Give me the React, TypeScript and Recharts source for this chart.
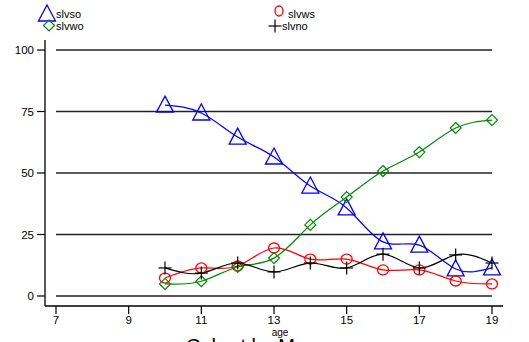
import React from "react";
import { LineChart, Line, XAxis, YAxis, ReferenceLine } from "recharts";

const ages = [10, 11, 12, 13, 14, 15, 16, 17, 18, 19];
const slvso = [77.6, 74.4, 64.6, 56.5, 44.7, 35.8, 22, 20.7, 11, 11.4];
const slvws = [7.3, 11.4, 12.2, 19.5, 15, 15, 10.6, 10.6, 6.1, 4.9];
const slvwo = [4.9, 6, 11.8, 15.4, 28.9, 40.2, 50.8, 58.5, 68.3, 71.5];
const slvno = [11.4, 9.3, 13.4, 9.8, 13.4, 11.4, 17, 11.4, 16.7, 13.4];
const xTicks = [7, 9, 11, 13, 15, 17, 19];
const yTicks = [0, 25, 50, 75, 100];
const gridValues = [0, 25, 50, 75, 100];

const data = ages.map((a, i) => ({
  age: a,
  slvso: slvso[i],
  slvws: slvws[i],
  slvwo: slvwo[i],
  slvno: slvno[i],
}));

const BLUE = "#0000ff";
const RED = "#ff0000";
const GREEN = "#008a00";
const BLACK = "#000000";
const FONT = "'Liberation Sans', Arial, sans-serif";

const Triangle = ({ cx, cy, color }: any) => (
  <polygon
    points={`${cx},${cy - 9} ${cx + 8.5},${cy + 7} ${cx - 8.5},${cy + 7}`}
    fill="none"
    stroke={color}
    strokeWidth={1.3}
  />
);
const Circle = ({ cx, cy, color }: any) => (
  <ellipse cx={cx} cy={cy} rx={5.5} ry={5} fill="none" stroke={color} strokeWidth={1.3} />
);
const Diamond = ({ cx, cy, color }: any) => (
  <polygon
    points={`${cx},${cy - 5.5} ${cx + 5.5},${cy} ${cx},${cy + 5.5} ${cx - 5.5},${cy}`}
    fill="none"
    stroke={color}
    strokeWidth={1.2}
  />
);
const Plus = ({ cx, cy, color }: any) => (
  <g stroke={color} strokeWidth={1.2}>
    <line x1={cx - 6.5} y1={cy} x2={cx + 6.5} y2={cy} />
    <line x1={cx} y1={cy - 6.5} x2={cx} y2={cy + 6.5} />
  </g>
);

const mkDot = (Shape: any, color: string) => (props: any) => {
  const { cx, cy, index } = props;
  if (cx == null || cy == null) return <g key={index} />;
  return (
    <g key={`d-${color}-${index}`}>
      <Shape cx={cx} cy={cy} color={color} />
    </g>
  );
};

export default function App() {
  return (
    <div style={{ position: "absolute", left: 0, top: 0, width: 529, height: 342, background: "#fff", overflow: "hidden" }}>
      <LineChart
        width={529}
        height={342}
        data={data}
        margin={{ top: 40, right: 26, bottom: 6, left: 0 }}
      >
        <XAxis
          dataKey="age"
          type="number"
          domain={[7 - 11 / 36.33, 19 + 11 / 36.33]}
          ticks={xTicks}
          interval={0}
          allowDataOverflow
          height={30}
          tickSize={8}
          tickMargin={2}
          stroke={BLACK}
          axisLine={{ stroke: BLACK, strokeWidth: 1.3 }}
          tickLine={{ stroke: BLACK, strokeWidth: 1.2 }}
          tick={{ fill: "#000", fontSize: 11.5, fontFamily: FONT }}
        />
        <YAxis
          type="number"
          domain={[-4.07, 104.07]}
          ticks={yTicks}
          interval={0}
          allowDataOverflow
          width={45}
          tickSize={8}
          tickMargin={3}
          stroke={BLACK}
          axisLine={{ stroke: BLACK, strokeWidth: 1.3 }}
          tickLine={{ stroke: BLACK, strokeWidth: 1.2 }}
          tick={{ fill: "#000", fontSize: 11.5, fontFamily: FONT }}
        />
        {gridValues.map((v) => (
          <ReferenceLine
            key={`g${v}`}
            segment={[
              { x: 7, y: v },
              { x: 19, y: v },
            ]}
            stroke="#222"
            strokeWidth={1.3}
            ifOverflow="visible"
          />
        ))}
        <Line
          dataKey="slvso"
          type="natural"
          stroke={BLUE}
          strokeWidth={1.2}
          dot={mkDot(Triangle, BLUE)}
          activeDot={false}
          isAnimationActive={false}
        />
        <Line
          dataKey="slvws"
          type="natural"
          stroke={RED}
          strokeWidth={1.2}
          dot={mkDot(Circle, RED)}
          activeDot={false}
          isAnimationActive={false}
        />
        <Line
          dataKey="slvwo"
          type="natural"
          stroke={GREEN}
          strokeWidth={1.2}
          dot={mkDot(Diamond, GREEN)}
          activeDot={false}
          isAnimationActive={false}
        />
        <Line
          dataKey="slvno"
          type="natural"
          stroke={BLACK}
          strokeWidth={1.2}
          dot={mkDot(Plus, BLACK)}
          activeDot={false}
          isAnimationActive={false}
        />
      </LineChart>
      <svg
        width={529}
        height={342}
        style={{ position: "absolute", left: 0, top: 0, pointerEvents: "none" }}
      >
        <Triangle cx={47} cy={14} color={BLUE} />
        <text x={56} y={18} fontSize={11} fontFamily={FONT} fill="#000">slvso</text>
        <Diamond cx={49} cy={25.5} color={GREEN} />
        <text x={56} y={29.5} fontSize={11} fontFamily={FONT} fill="#000">slvwo</text>
        <ellipse cx={279} cy={11} rx={4} ry={5} fill="none" stroke={RED} strokeWidth={1.3} />
        <text x={288} y={18} fontSize={11} fontFamily={FONT} fill="#000">slvws</text>
        <Plus cx={275} cy={26} color={BLACK} />
        <text x={282} y={29.5} fontSize={11} fontFamily={FONT} fill="#000">slvno</text>
        <text x={280} y={336} fontSize={10} fontFamily={FONT} fill="#000" textAnchor="middle">age</text>
        <text x={186} y={353} fontSize={20} fontFamily={FONT} fill="#000">Cohort by M</text>
      </svg>
    </div>
  );
}
